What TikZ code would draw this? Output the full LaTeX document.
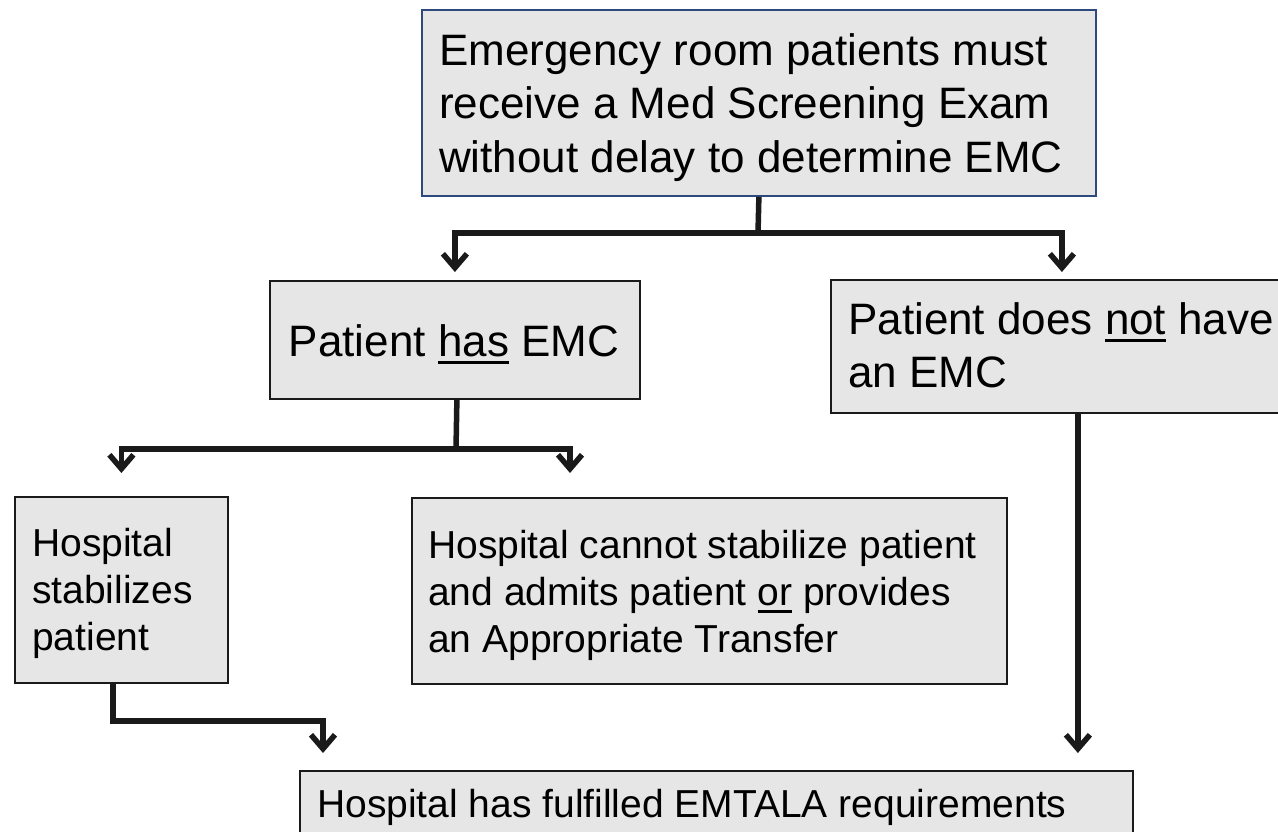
\documentclass[tikz,border=0pt]{standalone}
\usepackage{fontspec}
\setmainfont{Liberation Sans}
\usetikzlibrary{arrows.meta}
\definecolor{boxfill}{HTML}{E6E6E6}
\definecolor{linec}{HTML}{1A1A1A}
\definecolor{topedge}{HTML}{2E4A7D}
\newcommand\myul[1]{\setbox0\hbox{#1}\rlap{\rule[-8pt]{\wd0}{3pt}}\box0\relax}
\begin{document}
\begin{tikzpicture}[x=1pt,y=-1pt,
  box/.style={draw=linec, line width=1.8pt, fill=boxfill, inner sep=0pt, anchor=north west},
  bigtxt/.style={font=\fontsize{44}{53.5}\selectfont, inner sep=0pt, align=left, anchor=north west, text=black},
  smalltxt/.style={font=\fontsize{39}{47.2}\selectfont, inner sep=0pt, align=left, anchor=north west, text=black},
  ln/.style={draw=linec, line width=5.5pt},
  arr/.style={draw=linec, line width=5.5pt, -{Straight Barb[length=14pt,width=24pt,sharp]}}]
\useasboundingbox (0,0) rectangle (1278,832);
\clip (0,0) rectangle (1278,832);
\fill[white] (0,0) rectangle (1278,832);
% boxes
\node[box, draw=topedge, minimum width=674pt, minimum height=186pt] (top) at (421,9) {};
\node[box, minimum width=370pt, minimum height=118pt] (has) at (269,280) {};
\node[box, minimum width=462pt, minimum height=133pt] (nothave) at (830,279) {};
\node[box, minimum width=213pt, minimum height=186pt] (stab) at (14,496) {};
\node[box, minimum width=595pt, minimum height=186pt] (cannot) at (411,497) {};
\node[box, minimum width=833pt, minimum height=100pt] (bot) at (299,770) {};
% texts
\node[bigtxt] (topT) at (439,25) {\rule{0pt}{40pt}Emergency room patients must\\receive a Med Screening Exam\\without delay to determine EMC};
\node[bigtxt, anchor=base] (hasT) at (454,356) {Patient \myul{has} EMC};
\node[bigtxt] (nothaveT) at (848,294) {\rule{0pt}{40pt}Patient does \myul{not} have\\an EMC};
\node[smalltxt] (stabT) at (32,520) {\rule{0pt}{36pt}Hospital\\stabilizes\\patient};
\node[smalltxt] (cannotT) at (428,522) {\rule{0pt}{36pt}Hospital cannot stabilize patient\\and admits patient \myul{or} provides\\an Appropriate Transfer};
\node[smalltxt, anchor=base west] (botT) at (317,817) {Hospital has fulfilled EMTALA requirements};
% connectors
\coordinate (j1) at (758,233);
\draw[ln] (top.south) -- (j1);
\draw[arr, shorten >=8pt] (j1) -| (has.north);
\draw[arr, shorten >=7pt] (j1) -| (nothave.north);
\coordinate (j2) at (456,449);
\draw[ln] ([xshift=2pt]has.south) -- (j2);
\draw[arr, shorten >=23pt] (j2) -| (stab.north);
\coordinate (c2) at (570,473);
\draw[arr] (j2) -| (c2);
\coordinate (e1) at (323,721);
\draw[arr, shorten >=17pt] ([xshift=-8.5pt]stab.south) |- (e1) -- (e1 |- bot.north);
\coordinate (nh) at ([xshift=16pt]nothave.south);
\draw[arr, shorten >=17pt] (nh) -- (nh |- bot.north);
\end{tikzpicture}
\end{document}
